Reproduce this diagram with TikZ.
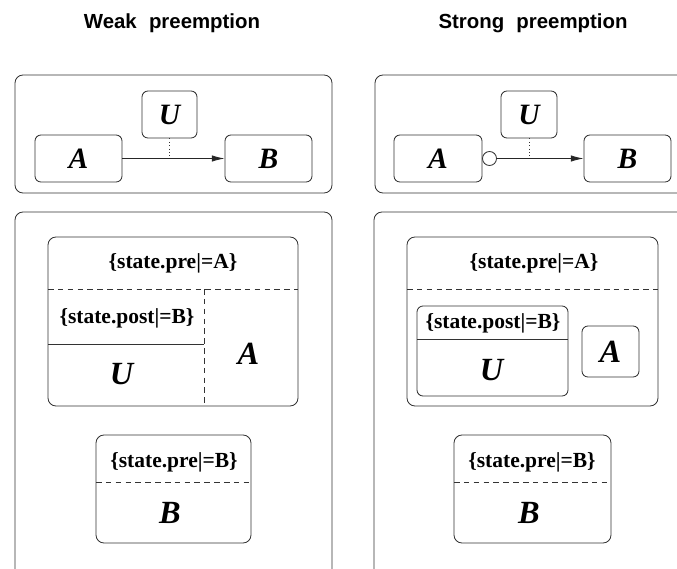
\documentclass[tikz,border=0pt]{standalone}
\usepackage{fontspec}
\setmainfont{Liberation Serif}
\newfontfamily\headfont{Liberation Sans}
\usepackage{tikz}
\usetikzlibrary{arrows.meta}

\newcommand{\statename}[2][21]{{\fontsize{#1}{#1}\selectfont\bfseries\itshape #2}}

\begin{document}
\begin{tikzpicture}[x = 0.025cm, y = -0.025cm,
        frame/.style = {color = black!80, line width = 0.6pt, rounded corners = 0.2cm},
        statebox/.style = {draw = black!80, line width = 0.6pt, rounded corners = 0.15cm, minimum width = 2.175cm, minimum height = 1.175cm, inner sep = 0pt},
        cut/.style = {color = black!80, line width = 0.6pt, dash pattern = on 4pt off 3pt},
        move/.style = {-{Latex[length = 9pt, width = 4.5pt]}, color = black!85, line width = 0.6pt},
        guard/.style = {font = \bfseries\fontsize{15.3}{15.3}\selectfont, inner sep = 0pt},
        title/.style = {font = \headfont\bfseries\fontsize{14.5}{14.5}\selectfont, anchor = base}]
        \useasboundingbox (0, 0) rectangle (677, 568);
        \clip (0, 0) rectangle (677, 568);
        \node (weak) at (172, 28) [title] {Weak\hspace{0.6em}preemption};
        \node (strong) at (533, 28) [title] {Strong\hspace{0.6em}preemption};
        \draw[frame] (15, 75) rectangle (332, 193);
        \draw[frame] (375, 75) rectangle (700, 193);
        \node (wA) at (78.5, 158.5) [statebox] {\statename{A}};
        \node (wU) at (169.5, 114.5) [statebox, minimum width = 1.375cm] {\statename{U}};
        \node (wB) at (268.5, 158.5) [statebox] {\statename{B}};
        \draw[move] (wA) -- (wB);
        \draw[dotted, color = black!80] (wU.south) -- ++(0, 17);
        \node (sA) at (438, 158.5) [statebox, minimum width = 2.2cm] {\statename{A}};
        \node (sU) at (529, 114.5) [statebox, minimum width = 1.4cm] {\statename{U}};
        \node (sB) at (627.5, 158.5) [statebox] {\statename{B}};
        \node (sc) at (489.5, 158.5) [circle, draw = black!80, line width = 0.6pt, minimum size = 0.35cm, inner sep = 0pt] {};
        \draw[move] (sc) -- (sB);
        \draw[dotted, color = black!80] (sU.south) -- ++(0, 17);
        \draw[frame] (15, 212) rectangle (332, 600);
        \draw[frame] (374, 212) rectangle (700, 600);
        \draw[frame] (48, 237) rectangle (298, 406);
        \draw[cut] (48, 289) -- (298, 289);
        \draw[cut] (204, 289) -- (204, 406);
        \draw[color = black!80, line width = 0.6pt] (48, 344) -- (204, 344);
        \node (wpreA) at (173, 263) [guard] {\{state.pre|=A\}};
        \node (wpost) at (127, 318) [guard] {\{state.post|=B\}};
        \node (wUin) at (121.5, 374) {\statename[23]{U}};
        \node (wAin) at (248.5, 354) {\statename[23]{A}};
        \draw[frame] (96, 435) rectangle (251, 543);
        \draw[cut] (96, 482) -- (251, 482);
        \node (wpreB) at (174, 462) [guard] {\{state.pre|=B\}};
        \node (wBin) at (170, 513) {\statename[23]{B}};
        \draw[frame] (407, 237) rectangle (658, 406);
        \draw[cut] (407, 289) -- (658, 289);
        \node (spreA) at (534, 263) [guard] {\{state.pre|=A\}};
        \draw[frame, rounded corners = 0.15cm] (417, 306) rectangle (568, 396);
        \draw[color = black!80, line width = 0.6pt] (417, 339) -- (568, 339);
        \node (spost) at (493, 323) [guard] {\{state.post|=B\}};
        \node (sUin) at (491.5, 370) {\statename[23]{U}};
        \node (sAin) at (610.5, 351.5) [statebox, minimum width = 1.425cm, minimum height = 1.275cm] {\statename[23]{A}};
        \draw[frame] (454, 435) rectangle (611, 543);
        \draw[cut] (454, 482) -- (611, 482);
        \node (spreB) at (532, 462) [guard] {\{state.pre|=B\}};
        \node (sBin) at (529, 513) {\statename[23]{B}};
    \end{tikzpicture}
\end{document}
